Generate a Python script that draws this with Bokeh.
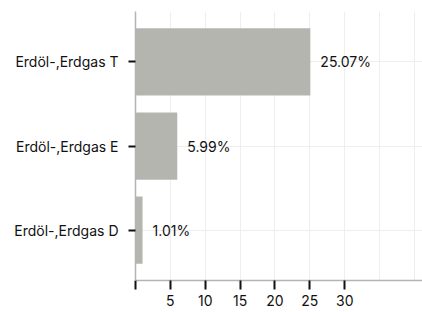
from bokeh.plotting import figure
from bokeh.models import ColumnDataSource, Range1d, FactorRange, FixedTicker
from bokeh.core.properties import value
from bokeh.embed import file_html
from bokeh.resources import INLINE

categories = ["Erdöl-,Erdgas D", "Erdöl-,Erdgas E", "Erdöl-,Erdgas T"]
values = [1.01, 5.99, 25.07]
labels = ["1.01%", "5.99%", "25.07%"]
x_ticks = [0, 5, 10, 15, 20, 25, 30]
grid_ticks = [0, 5, 10, 15, 20, 25, 30, 35, 40]

src = ColumnDataSource(dict(cat=categories, val=values, lab=labels))

FONT = "Inter"

p = figure(
    width=422, height=312,
    y_range=FactorRange(factors=categories, range_padding=0.1, range_padding_units="absolute"),
    x_range=Range1d(0, 41.15),
    output_backend="svg", toolbar_location=None,
    min_border_left=135, min_border_top=11, min_border_right=0, min_border_bottom=32,
)
p.outline_line_color = None

p.hbar(y="cat", right="val", height=0.8, left=0, source=src,
       fill_color="#b5b5b0", line_color=None)

p.text(x="val", y="cat", text="lab", source=src, x_offset=10,
       text_align="left", text_baseline="middle",
       text_font=value(FONT), text_font_size="14px", text_color="#111111")

# axes
p.xaxis.ticker = FixedTicker(ticks=x_ticks)
p.xaxis.major_label_overrides = {0: ""}
p.xaxis.axis_line_color = "#b4b4b4"
p.xaxis.axis_line_width = 1.5
p.xaxis.major_tick_line_color = "#111111"
p.xaxis.major_tick_line_width = 2
p.xaxis.major_tick_out = 9
p.xaxis.major_tick_in = 0
p.xaxis.minor_tick_line_color = None
p.xaxis.major_label_text_font = FONT
p.xaxis.major_label_text_font_size = "14px"
p.xaxis.major_label_text_color = "#111111"
p.xaxis.major_label_standoff = 5

p.yaxis.axis_line_color = "#b4b4b4"
p.yaxis.axis_line_width = 1.5
p.yaxis.major_tick_line_color = "#111111"
p.yaxis.major_tick_line_width = 2
p.yaxis.major_tick_out = 7
p.yaxis.major_tick_in = 0
p.yaxis.major_label_text_font = FONT
p.yaxis.major_label_text_font_size = "14px"
p.yaxis.major_label_text_color = "#111111"
p.yaxis.major_label_standoff = 10

p.xgrid.ticker = FixedTicker(ticks=grid_ticks)
p.xgrid.grid_line_color = "#eeeeee"
p.ygrid.grid_line_color = "#eeeeee"

open("out.html", "w").write(file_html(p, INLINE))
